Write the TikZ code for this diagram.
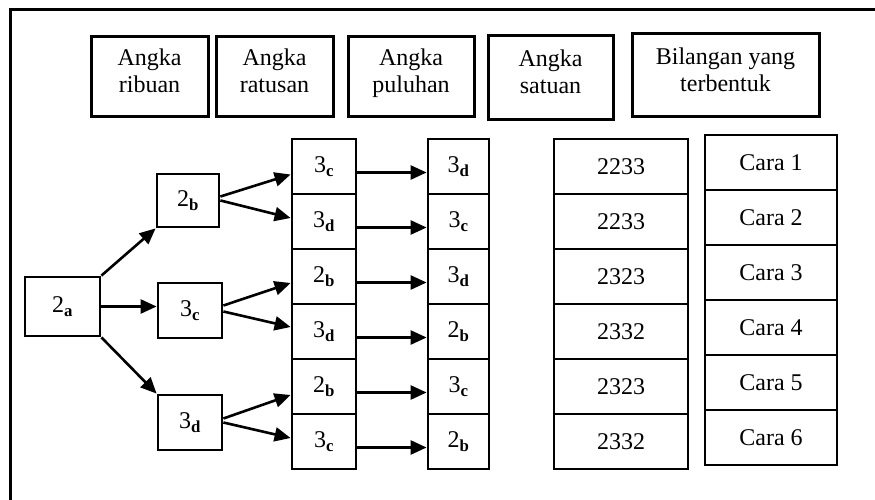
\documentclass[tikz,border=0pt]{standalone}
\usepackage{fontspec}
\setmainfont{Liberation Serif}
\usetikzlibrary{arrows.meta}
\newcommand\hdrtxt[2]{\strut #1\\#2\rule[-14pt]{0pt}{14pt}}
\newcommand\digsub[2]{#1\textsubscript{\textbf{#2}}}
\begin{document}
\begin{tikzpicture}[x=1pt,y=-1pt,
  box/.style={draw, line width=2.8pt, inner sep=0pt, align=center, font=\fontsize{24}{27}\selectfont},
  hdr/.style={box, line width=3pt},
  cell/.style={box, minimum height=55pt},
  arr/.style={line width=2.6pt, -{Triangle[length=16pt,width=14pt]}}]
\useasboundingbox (0,0) rectangle (875,500);
\fill[white] (0,0) rectangle (875,500);
% frame
\draw[line width=3pt] (10,500) -- (10,10) -- (875,10);
% headers
\node[hdr, minimum width=117pt, minimum height=80pt] (h1) at (149.5,77) {\hdrtxt{Angka}{ribuan}};
\node[hdr, minimum width=117pt, minimum height=80pt] (h2) at (274.5,77) {\hdrtxt{Angka}{ratusan}};
\node[hdr, minimum width=126pt, minimum height=80pt] (h3) at (411,77) {\hdrtxt{Angka}{puluhan}};
\node[hdr, minimum width=125pt, minimum height=84pt] (h4) at (550.5,78) {\hdrtxt{Angka}{satuan}};
\node[hdr, minimum width=187pt, minimum height=83pt] (h5) at (725.5,75.5) {\hdrtxt{Bilangan yang}{terbentuk}};
% tree nodes
\node[box, minimum width=75pt, minimum height=59pt] (a) at (62.5,306.5) {\digsub{2}{a}};
\node[box, minimum width=62pt, minimum height=53pt] (b2) at (188,200.5) {\digsub{2}{b}};
\node[box, minimum width=64pt, minimum height=55pt] (c3) at (190,310.5) {\digsub{3}{c}};
\node[box, minimum width=64pt, minimum height=55pt] (d3) at (190,422.5) {\digsub{3}{d}};
% column 3
\foreach \d/\s [count=\i] in {3/c,3/d,2/b,3/d,2/b,3/c}
  \node[cell, minimum width=64pt] (p\i) at (324,{166.5+55*(\i-1)}) {\digsub{\d}{\s}};
% column 4
\foreach \d/\s [count=\i] in {3/d,3/c,3/d,2/b,3/c,2/b}
  \node[cell, minimum width=61pt] (q\i) at (458.5,{166.5+55*(\i-1)}) {\digsub{\d}{\s}};
% column 5
\foreach \t [count=\i] in {2233,2233,2323,2332,2323,2332}
  \node[cell, minimum width=134pt] (n\i) at (621,{166.5+55*(\i-1)}) {\t};
% column 6
\foreach \i in {1,...,6}
  \node[cell, minimum width=132pt] (w\i) at (771,{162.5+55*(\i-1)}) {Cara \i};
% arrows from 2a
\draw[arr] (a.north east) -- (b2.south west);
\draw[arr] (a.east) -- (c3.west |- a.east);
\draw[arr] (a.south east) -- (d3.north west);
% arrows to column 3
\draw[arr] ([yshift=4pt]b2.east) -- ([yshift=-8pt]p1.west);
\draw[arr] ([yshift=0pt]b2.east) -- ([yshift=3.5pt]p2.west);
\draw[arr] ([yshift=5pt]c3.east) -- ([yshift=-6.5pt]p3.west);
\draw[arr] ([yshift=-1pt]c3.east) -- ([yshift=4.5pt]p4.west);
\draw[arr] ([yshift=4pt]d3.east) -- ([yshift=-8.5pt]p5.west);
\draw[arr] ([yshift=0pt]d3.east) -- ([yshift=3.5pt]p6.west);
% arrows column 3 -> column 4
\foreach \i in {1,...,6}
  \draw[arr] ([yshift=-6pt]p\i.east) -- ([yshift=-6pt]q\i.west);
\end{tikzpicture}
\end{document}
